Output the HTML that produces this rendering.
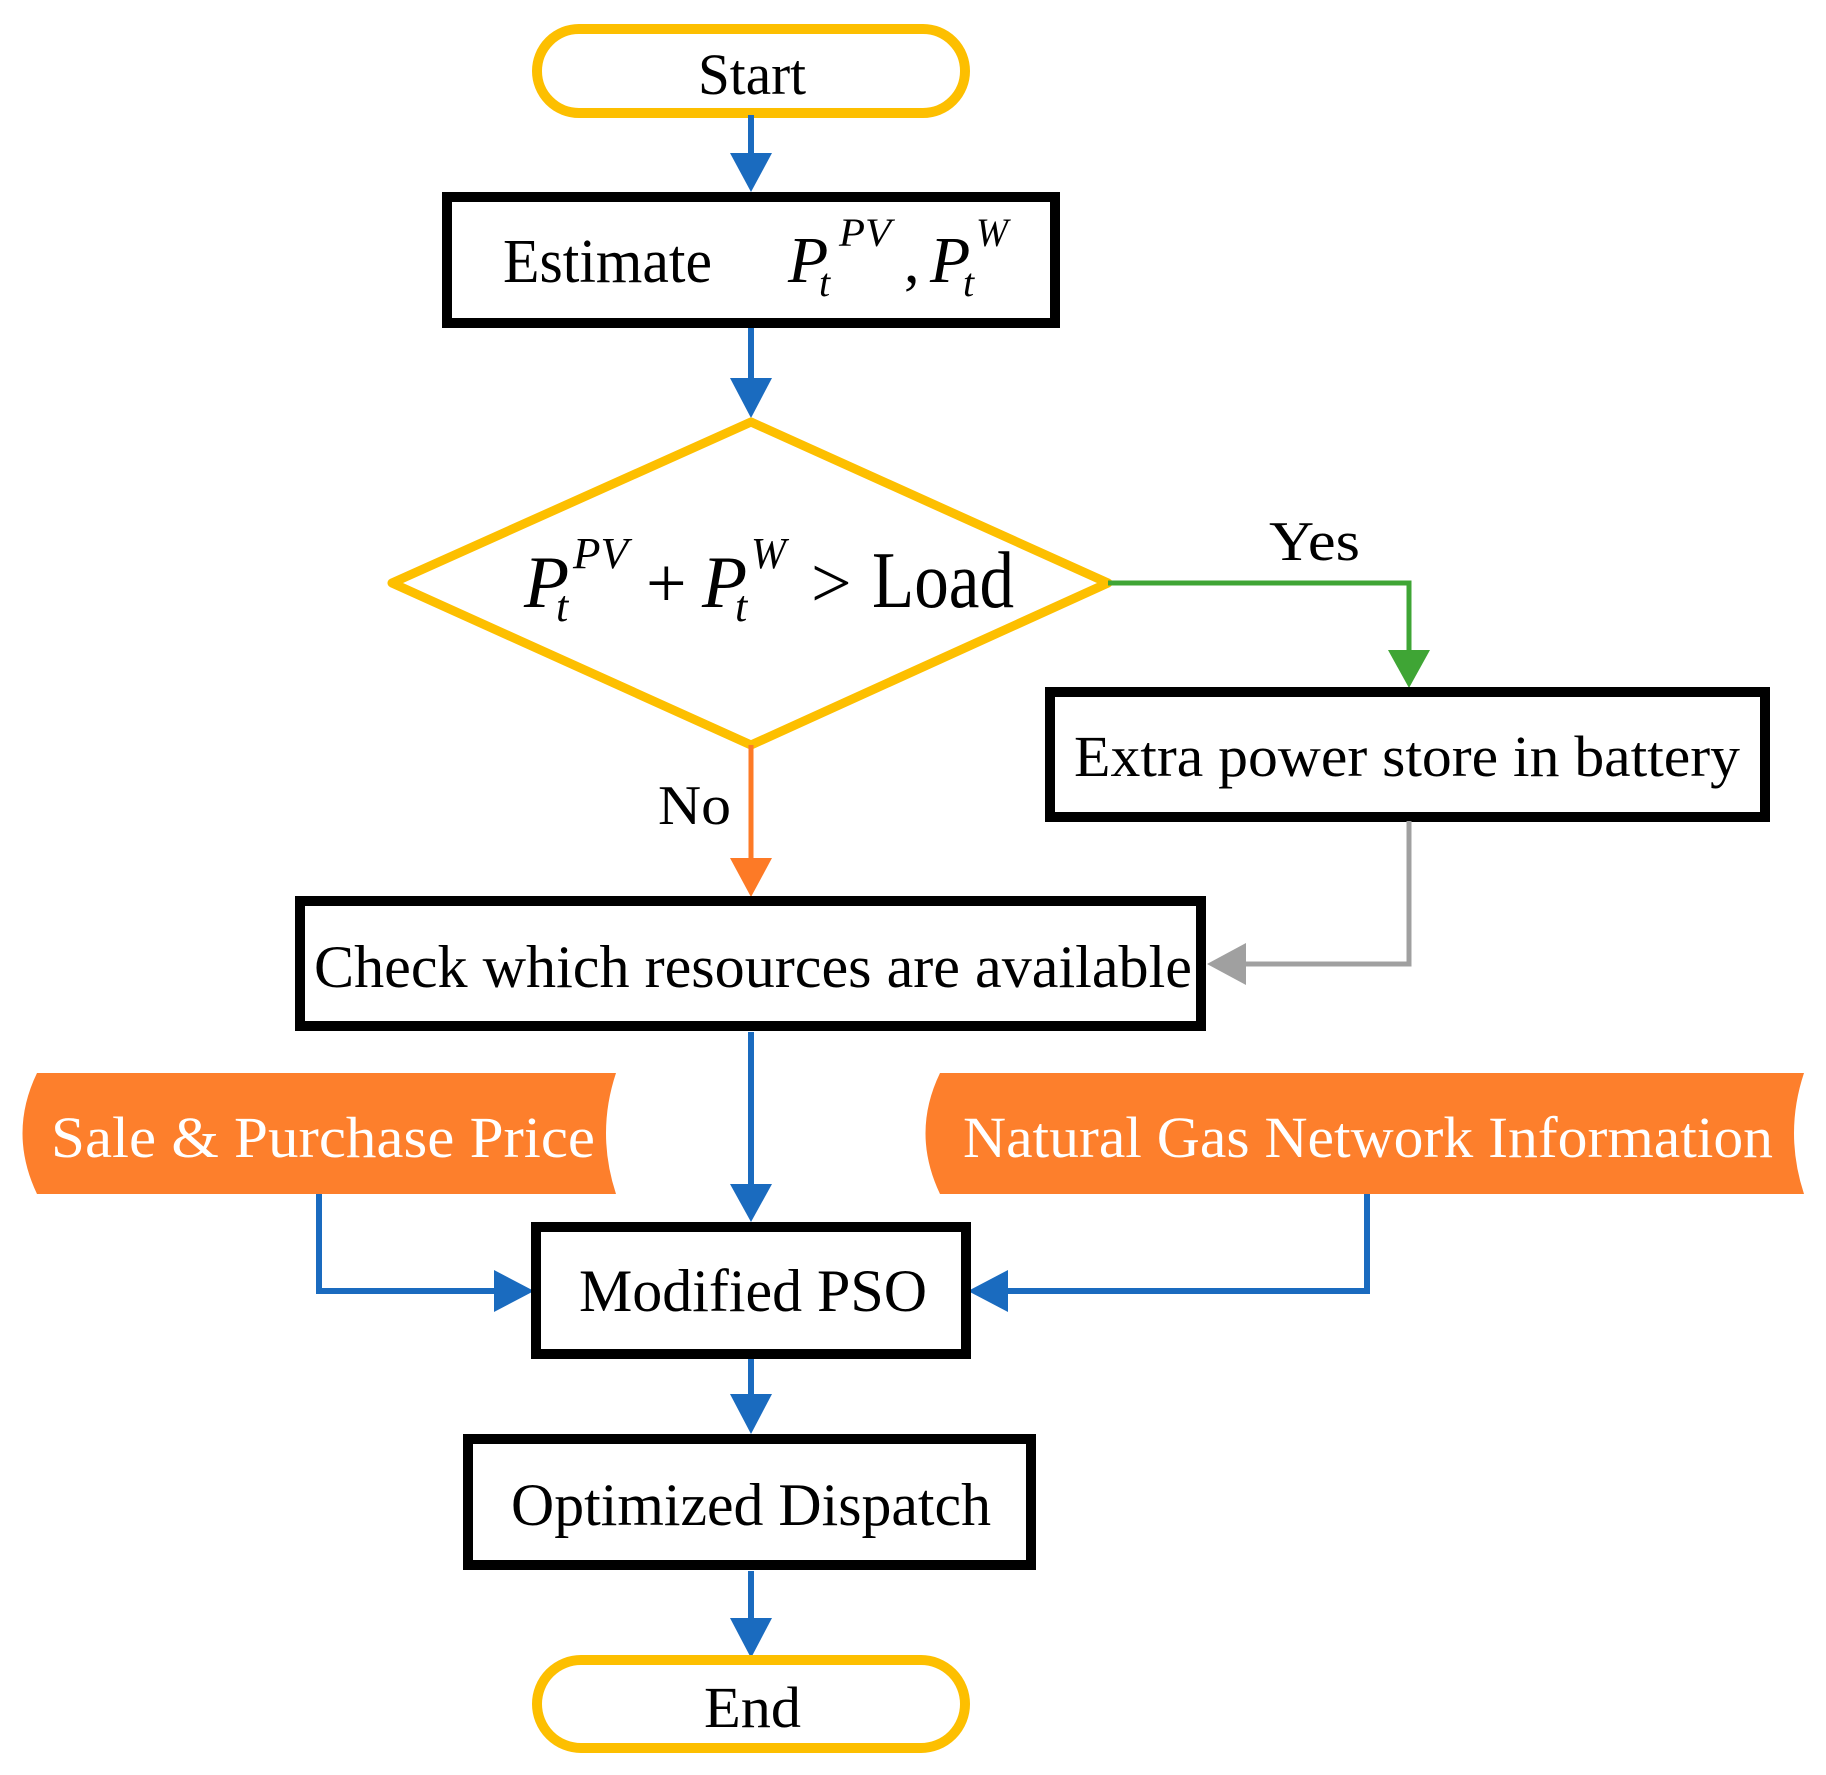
<!DOCTYPE html>
<html><head><meta charset="utf-8"><style>html,body{margin:0;padding:0;background:#fff}svg{display:block}text{font-family:"Liberation Serif",serif}</style></head><body>
<svg width="1826" height="1775" viewBox="0 0 1826 1775" xmlns="http://www.w3.org/2000/svg">
<g transform="translate(-4,-2)">
<!-- Start -->
<rect x="541" y="31" width="428" height="84" rx="42" fill="#fff" stroke="#fdbf00" stroke-width="10"/>
<text x="702" y="96" font-size="58" textLength="108" lengthAdjust="spacingAndGlyphs">Start</text>
<!-- blue arrows -->
<g stroke="#1a6bbf" stroke-width="6" fill="none">
<line x1="755" y1="117" x2="755" y2="160"/>
<line x1="755" y1="330" x2="755" y2="385"/>
<line x1="755" y1="1034" x2="755" y2="1190"/>
<line x1="755" y1="1360" x2="755" y2="1400"/>
<line x1="755" y1="1573" x2="755" y2="1625"/>
<polyline points="323,1196 323,1293 505,1293"/>
<polyline points="1371,1196 1371,1293 1006,1293"/>
</g>
<g fill="#1a6bbf">
<path d="M734,155 L776,155 L755,194 z"/>
<path d="M734,380 L776,380 L755,420 z"/>
<path d="M734,1186 L776,1186 L755,1224 z"/>
<path d="M734,1396 L776,1396 L755,1436 z"/>
<path d="M734,1620 L776,1620 L755,1660 z"/>
<path d="M498,1272 L498,1314 L538,1293 z"/>
<path d="M1012,1272 L1012,1314 L972,1293 z"/>
</g>
<!-- Estimate box -->
<rect x="451" y="199" width="608" height="126" fill="#fff" stroke="#000" stroke-width="10"/>
<text x="507" y="284" font-size="62" textLength="209" lengthAdjust="spacingAndGlyphs">Estimate</text>
<g font-style="italic">
<text x="792" y="284" font-size="66">P</text>
<text x="843" y="248" font-size="40" textLength="52" lengthAdjust="spacingAndGlyphs">PV</text>
<text x="823" y="298" font-size="40">t</text>
<text x="908" y="284" font-size="62" font-style="normal">,</text>
<text x="934" y="284" font-size="66">P</text>
<text x="980" y="248" font-size="40" textLength="32" lengthAdjust="spacingAndGlyphs">W</text>
<text x="967" y="298" font-size="40">t</text>
</g>
<!-- Diamond -->
<polygon points="755,424 1112,585 755,747 396,585" fill="#fff" stroke="#fdbf00" stroke-width="9" stroke-linejoin="round"/>
<g font-style="italic">
<text x="528" y="609" font-size="74">P</text>
<text x="577" y="570" font-size="44" textLength="55" lengthAdjust="spacingAndGlyphs">PV</text>
<text x="560" y="623" font-size="44">t</text>
<text x="706" y="609" font-size="74">P</text>
<text x="755" y="570" font-size="44" textLength="35" lengthAdjust="spacingAndGlyphs">W</text>
<text x="739" y="623" font-size="44">t</text>
</g>
<text x="650" y="609" font-size="72">+</text>
<text x="815" y="609" font-size="72">&gt;</text>
<text x="876" y="609" font-size="80" textLength="142" lengthAdjust="spacingAndGlyphs">Load</text>
<!-- Yes -->
<polyline points="1112,585 1413,585 1413,660" fill="none" stroke="#3fa535" stroke-width="5"/>
<path d="M1392,652 L1434,652 L1413,690 z" fill="#3fa535"/>
<text x="1273" y="562" font-size="56" textLength="91" lengthAdjust="spacingAndGlyphs">Yes</text>
<!-- Extra box -->
<rect x="1054" y="694" width="715" height="125" fill="#fff" stroke="#000" stroke-width="10"/>
<text x="1078" y="778" font-size="58" textLength="666" lengthAdjust="spacingAndGlyphs">Extra power store in battery</text>
<!-- No -->
<line x1="755" y1="747" x2="755" y2="870" stroke="#fd7a26" stroke-width="5"/>
<path d="M734,860 L776,860 L755,899 z" fill="#fd7a26"/>
<text x="662" y="826" font-size="56" textLength="73" lengthAdjust="spacingAndGlyphs">No</text>
<!-- gray -->
<polyline points="1413,823 1413,966 1240,966" fill="none" stroke="#a0a0a0" stroke-width="5"/>
<path d="M1250,945 L1250,987 L1211,966 z" fill="#a0a0a0"/>
<!-- Check box -->
<rect x="304" y="903" width="901" height="125" fill="#fff" stroke="#000" stroke-width="10"/>
<text x="318" y="989" font-size="60" textLength="878" lengthAdjust="spacingAndGlyphs">Check which resources are available</text>
<!-- banners -->
<path d="M41,1075 L620,1075 Q600,1135 620,1196 L41,1196 Q12,1135 41,1075 z" fill="#fd7f2c"/>
<text x="55" y="1159" font-size="58" fill="#fff" textLength="544" lengthAdjust="spacingAndGlyphs">Sale &amp; Purchase  Price</text>
<path d="M944,1075 L1808,1075 Q1788,1135 1808,1196 L944,1196 Q915,1135 944,1075 z" fill="#fd7f2c"/>
<text x="967" y="1159" font-size="58" fill="#fff" textLength="810" lengthAdjust="spacingAndGlyphs">Natural Gas Network Information</text>
<!-- Modified PSO -->
<rect x="540" y="1229" width="430" height="127" fill="#fff" stroke="#000" stroke-width="10"/>
<text x="583" y="1313" font-size="60" textLength="348" lengthAdjust="spacingAndGlyphs">Modified PSO</text>
<!-- Optimized -->
<rect x="472" y="1441" width="563" height="126" fill="#fff" stroke="#000" stroke-width="10"/>
<text x="515" y="1527" font-size="60" textLength="480" lengthAdjust="spacingAndGlyphs">Optimized Dispatch</text>
<!-- End -->
<rect x="541" y="1662" width="428" height="88" rx="44" fill="#fff" stroke="#fdbf00" stroke-width="10"/>
<text x="708" y="1729" font-size="58" textLength="97" lengthAdjust="spacingAndGlyphs">End</text>
</g>
</svg>
</body></html>
